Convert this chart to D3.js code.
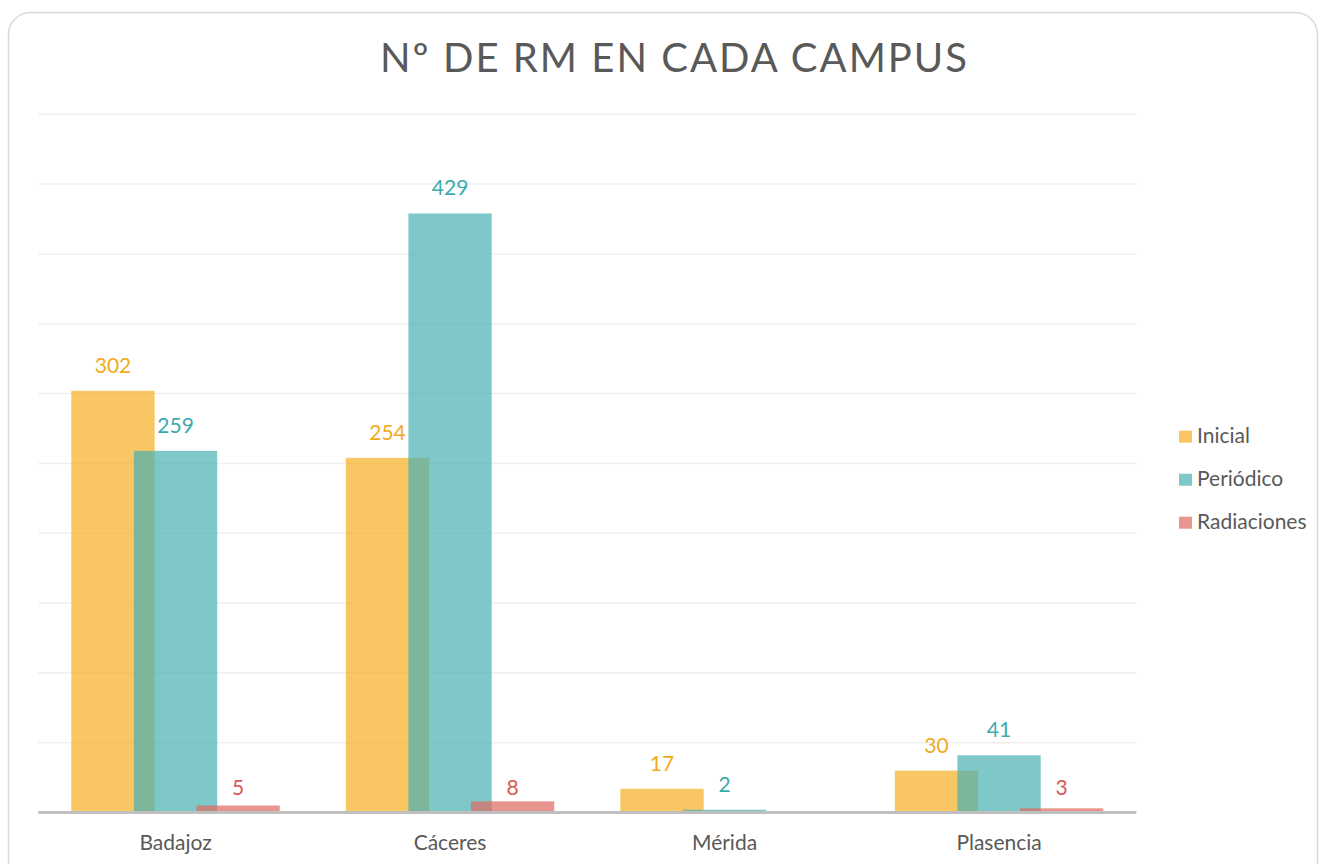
<!DOCTYPE html>
<html>
<head>
<meta charset="utf-8">
<script src="https://cdn.jsdelivr.net/npm/d3@7"></script>
<style>
html,body{margin:0;padding:0;background:#fff;}
svg{display:block;font-family:"Lato","Open Sans",sans-serif;}
</style>
</head>
<body>
<svg id="chart" width="1325" height="864"></svg>
<script>
const categories = ["Badajoz", "Cáceres", "Mérida", "Plasencia"];
const seriesNames = ["Inicial", "Periódico", "Radiaciones"];
const inicial = [302, 254, 17, 30];
const periodico = [259, 429, 2, 41];
const radiaciones = [5, 8, null, 3];
const yTicks = [0, 50, 100, 150, 200, 250, 300, 350, 400, 450, 500];

const fills = ["#F5AE1F", "#48B0B3", "#DE685F"];
const labelColors = ["#F2A91C", "#3BABAE", "#D65A52"];
const seriesValues = [inicial, periodico, radiaciones];

const svg = d3.select("#chart");

// card
svg.append("rect")
  .attr("x", 8.5).attr("y", 12.5).attr("width", 1309).attr("height", 880)
  .attr("rx", 22).attr("ry", 22)
  .attr("fill", "#fff").attr("stroke", "#D9D9D9").attr("stroke-width", 1.5);

const plotL = 38.3, plotR = 1136.3, plotB = 812.5, plotT = 114.3;

const x0 = d3.scaleBand().domain(categories).range([plotL, plotR]).padding(0);
const y = d3.scaleLinear().domain([0, 500]).range([plotB, plotT]);

// gridlines
svg.append("g").selectAll("line").data(yTicks.filter(d => d > 0)).join("line")
  .attr("x1", plotL).attr("x2", plotR)
  .attr("y1", d => y(d)).attr("y2", d => y(d))
  .attr("stroke", "#EFEFEF").attr("stroke-width", 1.5);

const bw = x0.bandwidth();
const barW = bw * 0.3035;
const step = bw * 0.2279;
const groupOff = (bw - (2 * step + barW)) / 2;

const bars = [];
seriesValues.forEach((vals, si) => {
  vals.forEach((v, ci) => {
    if (v === null) return;
    bars.push({si, ci, v, x: x0(categories[ci]) + groupOff + si * step});
  });
});

svg.append("g").selectAll("rect").data(bars).join("rect")
  .attr("x", d => d.x)
  .attr("width", barW)
  .attr("y", d => y(d.v))
  .attr("height", d => y(0) - y(d.v))
  .attr("fill", d => fills[d.si])
  .attr("fill-opacity", 0.7);

// baseline
svg.append("line")
  .attr("x1", plotL).attr("x2", plotR)
  .attr("y1", plotB).attr("y2", plotB)
  .attr("stroke", "#BFBFBF").attr("stroke-width", 3);

// data labels
svg.append("g").selectAll("text").data(bars).join("text")
  .attr("x", d => d.x + barW / 2)
  .attr("y", d => d.si === 2 ? y(0) - 17.5 : y(d.v) - 18)
  .attr("text-anchor", "middle")
  .attr("font-size", 21)
  .attr("fill", d => labelColors[d.si])
  .text(d => d.v);

// category axis labels
svg.append("g").selectAll("text").data(categories).join("text")
  .attr("x", d => x0(d) + bw / 2)
  .attr("y", 850)
  .attr("text-anchor", "middle")
  .attr("font-size", 21)
  .attr("fill", "#595959")
  .text(d => d);

// title
svg.append("text")
  .attr("x", 673.5).attr("y", 71.7)
  .attr("text-anchor", "middle")
  .attr("font-size", 40)
  .attr("textLength", 587)
  .attr("lengthAdjust", "spacing")
  .attr("fill", "#595959")
  .text("Nº DE RM EN CADA CAMPUS");

// legend
const lg = svg.append("g").selectAll("g").data(seriesNames).join("g")
  .attr("transform", (d, i) => `translate(1179, ${443.3 + i * 43})`);
lg.append("rect").attr("x", 0).attr("y", -12.6).attr("width", 13).attr("height", 12)
  .attr("fill", (d, i) => fills[i]).attr("fill-opacity", 0.7);
lg.append("text").attr("x", 18).attr("y", 0)
  .attr("font-size", 21).attr("fill", "#595959")
  .text(d => d);
</script>
</body>
</html>
